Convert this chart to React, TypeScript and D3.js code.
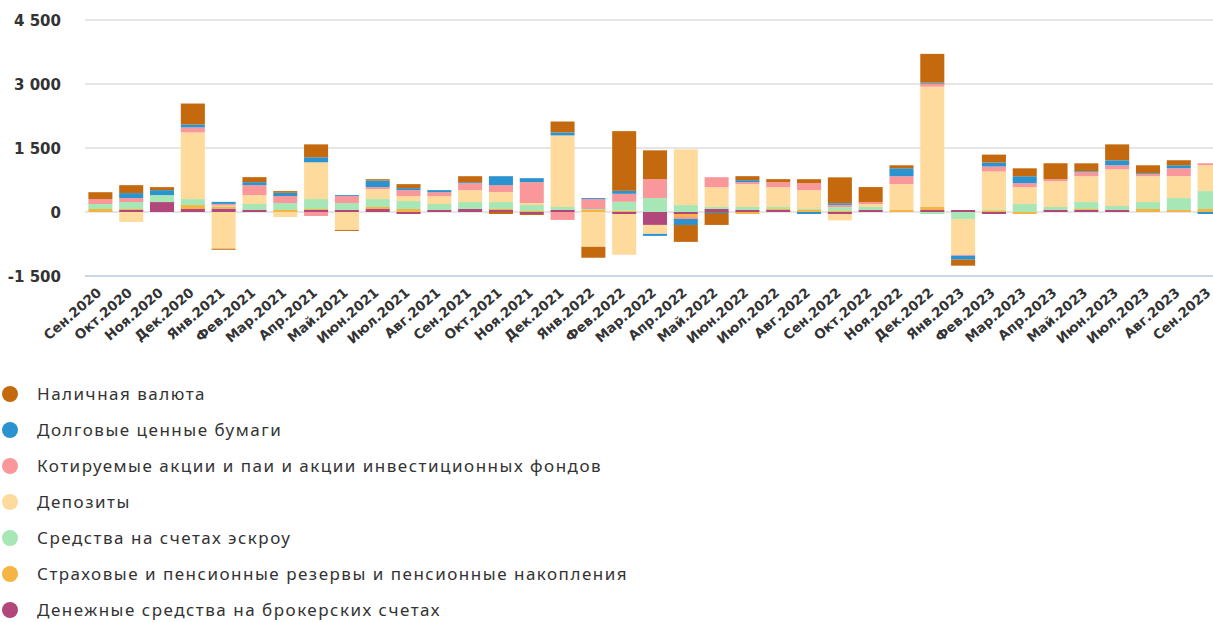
import React, { useEffect, useRef } from 'react';
import * as d3 from 'd3';

const months = [
  'Сен.2020', 'Окт.2020', 'Ноя.2020', 'Дек.2020', 'Янв.2021', 'Фев.2021', 'Мар.2021', 'Апр.2021',
  'Май.2021', 'Июн.2021', 'Июл.2021', 'Авг.2021', 'Сен.2021', 'Окт.2021', 'Ноя.2021', 'Дек.2021',
  'Янв.2022', 'Фев.2022', 'Мар.2022', 'Апр.2022', 'Май.2022', 'Июн.2022', 'Июл.2022', 'Авг.2022',
  'Сен.2022', 'Окт.2022', 'Ноя.2022', 'Дек.2022', 'Янв.2023', 'Фев.2023', 'Мар.2023', 'Апр.2023',
  'Май.2023', 'Июн.2023', 'Июл.2023', 'Авг.2023', 'Сен.2023',
];

// legend order
const seriesNames = [
  'Наличная валюта',
  'Долговые ценные бумаги',
  'Котируемые акции и паи и акции инвестиционных фондов',
  'Депозиты',
  'Средства на счетах эскроу',
  'Страховые и пенсионные резервы и пенсионные накопления',
  'Денежные средства на брокерских счетах',
];
const seriesColors = ['#C5690F', '#2B93CF', '#FA979A', '#FEDB9D', '#A7E7B5', '#F6B444', '#B2477B'];

const cash = [160, 186, 70, 490, -25, 117, 39, 303, -23, 31, 93, 0, 140, -47, -23, 256, -256, 1399, 676, -396, -280, 93, 70, 93, 606, 350, 70, 676, -140, 186, 186, 373, 186, 373, 186, 117, 0];
const debt = [0, 117, 117, 70, 47, 70, 78, 117, 23, 155, 47, 47, 23, 210, 93, 70, 23, 70, -47, -140, -23, 47, 0, -47, 40, 0, 186, 23, -93, 93, 163, 0, 23, 117, 23, 70, -47];
const shares = [117, 93, 0, 117, 40, 233, 163, -93, 163, 47, 140, 93, 163, 163, 490, -186, 233, 186, 443, -47, 233, 47, 117, 163, 50, 47, 186, 70, -23, 117, 93, 47, 93, 93, 47, 186, 47];
const deposits = [0, -233, 0, 1562, -860, 210, -117, 862, -420, 233, 117, 186, 280, 233, 47, 1678, -816, -956, -210, 1305, 466, 536, 466, 443, -150, 70, 606, 2820, -839, 886, 396, 606, 606, 862, 606, 513, 606];
const escrow = [117, 163, 163, 140, 20, 140, 163, 233, 163, 186, 186, 140, 163, 163, 140, 70, 23, 210, 326, 163, 47, 70, 47, 23, 93, 70, 0, -47, -163, 23, 186, 70, 163, 93, 163, 280, 420];
const insurance = [70, 23, 0, 93, 50, 0, 47, 23, 0, 47, 70, 0, 0, 23, 23, 0, 47, 30, 0, -70, 0, -47, 23, 47, 23, 0, 47, 70, 0, 40, -47, 0, 23, 0, 70, 47, 70];
const brokerage = [0, 47, 233, 70, 80, 47, 0, 47, 47, 70, -47, 47, 70, 47, -47, 47, 0, -47, -303, -47, 70, 47, 47, 0, -47, 47, 0, 47, 47, -47, 0, 47, 47, 47, 0, 0, 0];

const seriesValues = [cash, debt, shares, deposits, escrow, insurance, brokerage];
const yTicks = [-1500, 0, 1500, 3000, 4500];

const W = 1213;
const H = 622;

const App = () => {
  const svgRef = useRef<SVGSVGElement | null>(null);

  useEffect(() => {
    const svg = d3.select(svgRef.current);
    svg.selectAll('*').remove();

    const rows = months.map((m, i) => {
      const r: Record<string, any> = { month: m };
      seriesNames.forEach((s, k) => { r[s] = seriesValues[k][i]; });
      return r;
    });

    const x = d3.scaleBand().domain(months).range([85, 1225]).paddingInner(0.22).paddingOuter(0.11);
    const y = d3.scaleLinear().domain([-1500, 4500]).range([276, 20]);

    // grid
    svg.append('g')
      .selectAll('line')
      .data(yTicks.filter(t => t !== -1500))
      .enter()
      .append('line')
      .attr('x1', 85)
      .attr('x2', W)
      .attr('y1', d => y(d))
      .attr('y2', d => y(d))
      .attr('stroke', '#e6e6e6')
      .attr('stroke-width', 2);

    // axis line at the bottom
    svg.append('line')
      .attr('x1', 85)
      .attr('x2', W)
      .attr('y1', y(-1500))
      .attr('y2', y(-1500))
      .attr('stroke', '#ccd6eb')
      .attr('stroke-width', 2);

    // y labels
    const fmt = (v: number) => d3.format(',')(v).replace(/,/g, ' ').replace('−', '-');
    svg.append('g')
      .selectAll('text')
      .data(yTicks)
      .enter()
      .append('text')
      .attr('x', 61)
      .attr('y', d => y(d) + 6)
      .attr('text-anchor', 'end')
      .attr('font-family', '"DejaVu Sans", Verdana, sans-serif')
      .attr('font-weight', 'bold')
      .attr('font-size', 15)
      .attr('fill', '#333333')
      .text(d => fmt(d));

    // stacked bars, first series furthest from zero
    const keys = seriesNames.slice().reverse();
    const stack = d3.stack<any>().keys(keys).offset(d3.stackOffsetDiverging);
    const layers = stack(rows);

    svg.append('g')
      .selectAll('g')
      .data(layers)
      .enter()
      .append('g')
      .attr('fill', d => seriesColors[seriesNames.indexOf(d.key)])
      .selectAll('rect')
      .data(d => d)
      .enter()
      .append('rect')
      .attr('x', d => x(d.data.month) as number)
      .attr('width', x.bandwidth())
      .attr('y', d => y(Math.max(d[0], d[1])))
      .attr('height', d => Math.abs(y(d[0]) - y(d[1])));

    // x labels
    svg.append('g')
      .selectAll('text')
      .data(months)
      .enter()
      .append('text')
      .attr('transform', d => `translate(${(x(d) as number) + x.bandwidth() / 2 + 2},${294}) rotate(-41)`)
      .attr('text-anchor', 'end')
      .attr('font-family', '"DejaVu Sans", Verdana, sans-serif')
      .attr('font-weight', 'bold')
      .attr('font-size', 13.5)
      .attr('fill', '#333333')
      .text(d => d);

    // legend
    const legend = svg.append('g')
      .selectAll('g')
      .data(seriesNames)
      .enter()
      .append('g')
      .attr('transform', (d, i) => `translate(0,${394 + i * 36})`);

    legend.append('circle')
      .attr('cx', 10)
      .attr('cy', 0)
      .attr('r', 8)
      .attr('fill', (d, i) => seriesColors[i]);

    legend.append('text')
      .attr('x', 37)
      .attr('y', 6)
      .attr('font-family', '"Noto Sans", sans-serif')
      .attr('font-size', 17)
      .attr('letter-spacing', 1.5)
      .attr('fill', '#333333')
      .text(d => d);
  }, []);

  return (
    <div style={{ position: 'absolute', left: 0, top: 0, width: W, height: H, overflow: 'hidden', background: '#fff' }}>
      <svg ref={svgRef} width={W} height={H}></svg>
    </div>
  );
};

export default App;
